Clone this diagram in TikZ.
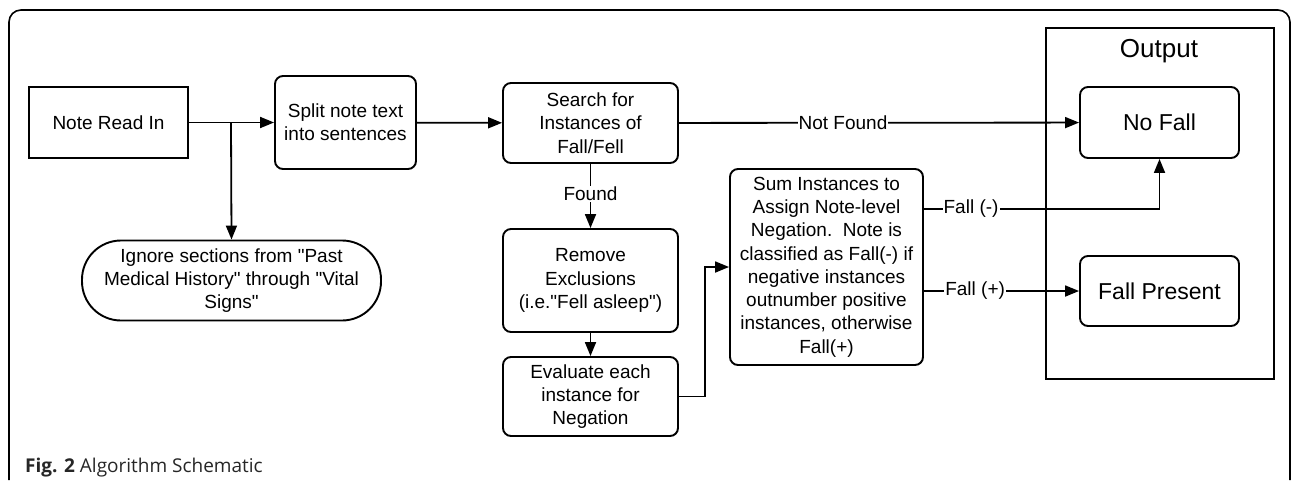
\documentclass[tikz,border=0pt]{standalone}
\usepackage{fontspec}
\setmainfont{Liberation Sans}
\newfontfamily\capfont{Open Sans}
\usetikzlibrary{arrows.meta}
\tikzset{
  box/.style={draw, line width=1.9pt, rounded corners=8pt, align=center, inner sep=0pt,
    font=\fontsize{19}{23.3}\selectfont},
  sqbox/.style={box, sharp corners},
  outtext/.style={font=\fontsize{23}{27}\selectfont},
  lbl/.style={fill=white, inner sep=1pt, font=\fontsize{19}{23}\selectfont},
  arr/.style={-{Triangle[length=14pt,width=11pt]}, line width=1.8pt},
}
\begin{document}
\begin{tikzpicture}[x=1pt, y=-1pt]
    \useasboundingbox (0,0) rectangle (1292,480);
    \draw[line width=1.6pt, rounded corners=12pt] (9,480) -- (9,10) -- (1290,10) -- (1290,480);
    \node[sqbox, minimum width=159pt, minimum height=71pt] (note) at (108.5,122.5) {Note Read In};
    \node[box, minimum width=141pt, minimum height=93pt] (split) at (345.5,122.5) {Split note text\\into sentences};
    \node[box, minimum width=175pt, minimum height=80pt] (search) at (590.5,123) {Search for\\Instances of\\Fall/Fell};
    \node[box, rounded corners=39pt, minimum width=299pt, minimum height=80pt] (ignore) at (231.5,280.5)
      {Ignore sections from \textquotedbl Past\\Medical History\textquotedbl{} through \textquotedbl Vital\\Signs\textquotedbl};
    \node[box, minimum width=175pt, minimum height=103pt] (remove) at (590.5,280.5)
      {Remove\\Exclusions\\(i.e.\textquotedbl Fell asleep\textquotedbl)};
    \node[box, minimum width=175pt, minimum height=79pt] (eval) at (590.5,396.5) {Evaluate each\\instance for\\Negation};
    \node[box, minimum width=193pt, minimum height=196pt] (sum) at (826.5,267)
      {Sum Instances to\\Assign Note-level\\Negation.\ \ Note is\\classified as Fall(-) if\\negative instances\\outnumber positive\\instances, otherwise\\Fall(+)};
    \node[sqbox, minimum width=228pt, minimum height=351pt] (output) at (1160,203.5) {};
    \node[font=\fontsize{26}{30}\selectfont] (outlabel) at (1159,51) {Output};
    \node[box, outtext, minimum width=159pt, minimum height=71pt] (nofall) at (1159.5,122.5) {No Fall};
    \node[box, outtext, minimum width=159pt, minimum height=70pt] (present) at (1159.5,291) {Fall Present};
    \coordinate (fork) at (231,122.5);
    \coordinate (minus) at ([yshift=58pt]sum.east);
    \draw[arr] (note) -- (split);
    \draw[arr] (fork) -- (ignore.north);
    \draw[arr] (split) -- (search);
    \draw[arr] (search) -- node[lbl, pos=0.41] {Not Found} (nofall);
    \draw[arr] (search) -- node[lbl, pos=0.47] {Found} (remove);
    \draw[arr] (remove) -- (eval);
    \draw[arr] (eval.east) -- ++(26,0) |- (sum.west);
    \draw[arr] (minus) -- node[lbl, pos=0.2] {Fall (-)} (minus -| nofall.south) -- (nofall.south);
    \draw[arr] (sum.east |- present.west) -- node[lbl, pos=0.33] {Fall (+)} (present.west);
    \node[anchor=base west, inner sep=0pt, text=black!85, font=\capfont\fontsize{19}{22}\selectfont] (caption) at (25,472)
      {\textbf{Fig. 2} Algorithm Schematic};
\end{tikzpicture}
\end{document}
